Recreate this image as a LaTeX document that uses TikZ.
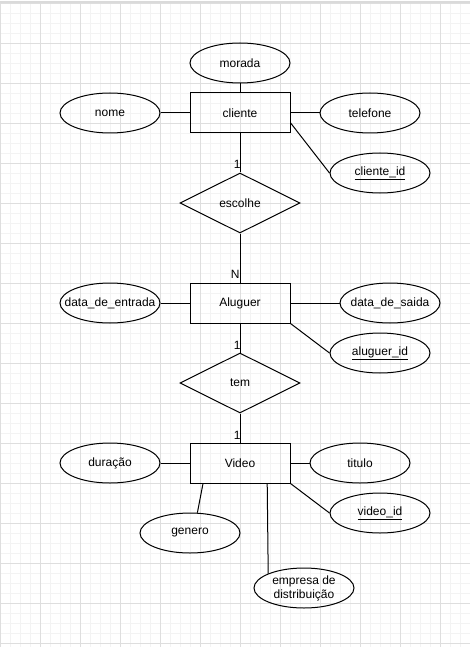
\documentclass[tikz,border=0pt]{standalone}
\usepackage{fontspec}
\setmainfont{Liberation Sans}
\usetikzlibrary{shapes.geometric}
\definecolor{gridmajor}{HTML}{DEDEDE}
\definecolor{gridminor}{HTML}{F3F3F3}
\definecolor{topbar}{HTML}{DADADA}
\begin{document}
\begin{tikzpicture}[x=1pt,y=-1pt,
  every node/.style={font=\fontsize{12}{14}\selectfont},
  entity/.style={draw, line width=1pt, rectangle, minimum width=100pt, minimum height=40pt, inner sep=0pt},
  attr/.style={draw, line width=1pt, ellipse, minimum width=100pt, minimum height=40pt, inner xsep=-20pt, inner ysep=-5pt, align=center},
  rel/.style={draw, line width=1pt, diamond, minimum width=120pt, minimum height=60pt, inner sep=0pt, aspect=2},
  conn/.style={line width=1pt},
  card/.style={inner sep=0pt, anchor=base east},
  gminor/.style={draw=gridminor, line width=1pt},
  gmajor/.style={draw=gridmajor, line width=1pt}
]
\useasboundingbox (0,0) rectangle (470,647);
\fill[white] (0,0) rectangle (470,647);
% grid
\foreach \i in {0,...,47} \draw[gminor] ({\i*10+0.5},3) -- ({\i*10+0.5},647);
\foreach \j in {0,...,64} \draw[gminor] (0,{3.5+\j*10}) -- (470,{3.5+\j*10});
\foreach \i in {0,...,11} \draw[gmajor] ({\i*40+0.5},3) -- ({\i*40+0.5},647);
\foreach \j in {0,...,16} \draw[gmajor] (0,{3.5+\j*40}) -- (470,{3.5+\j*40});
\fill[topbar] (0,1) rectangle (470,3);

% nodes
\node[entity] (cliente) at (240,113) {cliente};
\node[attr] (morada) at (240,63) {morada};
\node[attr] (nome) at (110,113) {nome};
\node[attr] (telefone) at (370,113) {telefone};
\node[attr] (clienteid) at (380,173) {\underline{cliente\_id}};
\node[rel] (escolhe) at (240,203) {escolhe};
\node[entity] (aluguer) at (240,303) {Aluguer};
\node[attr] (entrada) at (110,303) {data\_de\_entrada};
\node[attr] (saida) at (390,303) {data\_de\_saida};
\node[attr] (aluguerid) at (380,353) {\underline{aluguer\_id}};
\node[rel] (tem) at (240,383) {tem};
\node[entity] (video) at (240,463) {Video};
\node[attr] (duracao) at (110,463) {duração};
\node[attr] (titulo) at (360,463) {titulo};
\node[attr] (videoid) at (380,513) {\underline{video\_id}};
\node[attr] (genero) at (190,533) {genero};
\node[attr] (empresa) at (304,588) {empresa de\\distribuição};

% connectors
\draw[conn] (morada) -- (cliente);
\draw[conn] (nome) -- (cliente);
\draw[conn] (cliente) -- (telefone);
\draw[conn] (cliente.-11.31) -- (clienteid.west);
\draw[conn] (cliente) -- (escolhe) node[card, at end, xshift=1pt, yshift=3.5pt] {1};
\draw[conn] (escolhe) -- (aluguer) node[card, at end, yshift=4pt] {N};
\draw[conn] (entrada) -- (aluguer);
\draw[conn] (aluguer) -- (saida);
\draw[conn] (aluguer.south east) -- (aluguerid.west);
\draw[conn] (aluguer) -- (tem) node[card, at end, xshift=1pt, yshift=3.5pt] {1};
\draw[conn] (tem) -- (video) node[card, at end, xshift=1pt, yshift=3.5pt] {1};
\draw[conn] (duracao) -- (video);
\draw[conn] (video) -- (titulo);
\draw[conn] (video.south east) -- (videoid.west);
\draw[conn] (video.209.05) -- (genero.70);
\draw[conn] (video.-37.57) -- (empresa.158);
\end{tikzpicture}
\end{document}
